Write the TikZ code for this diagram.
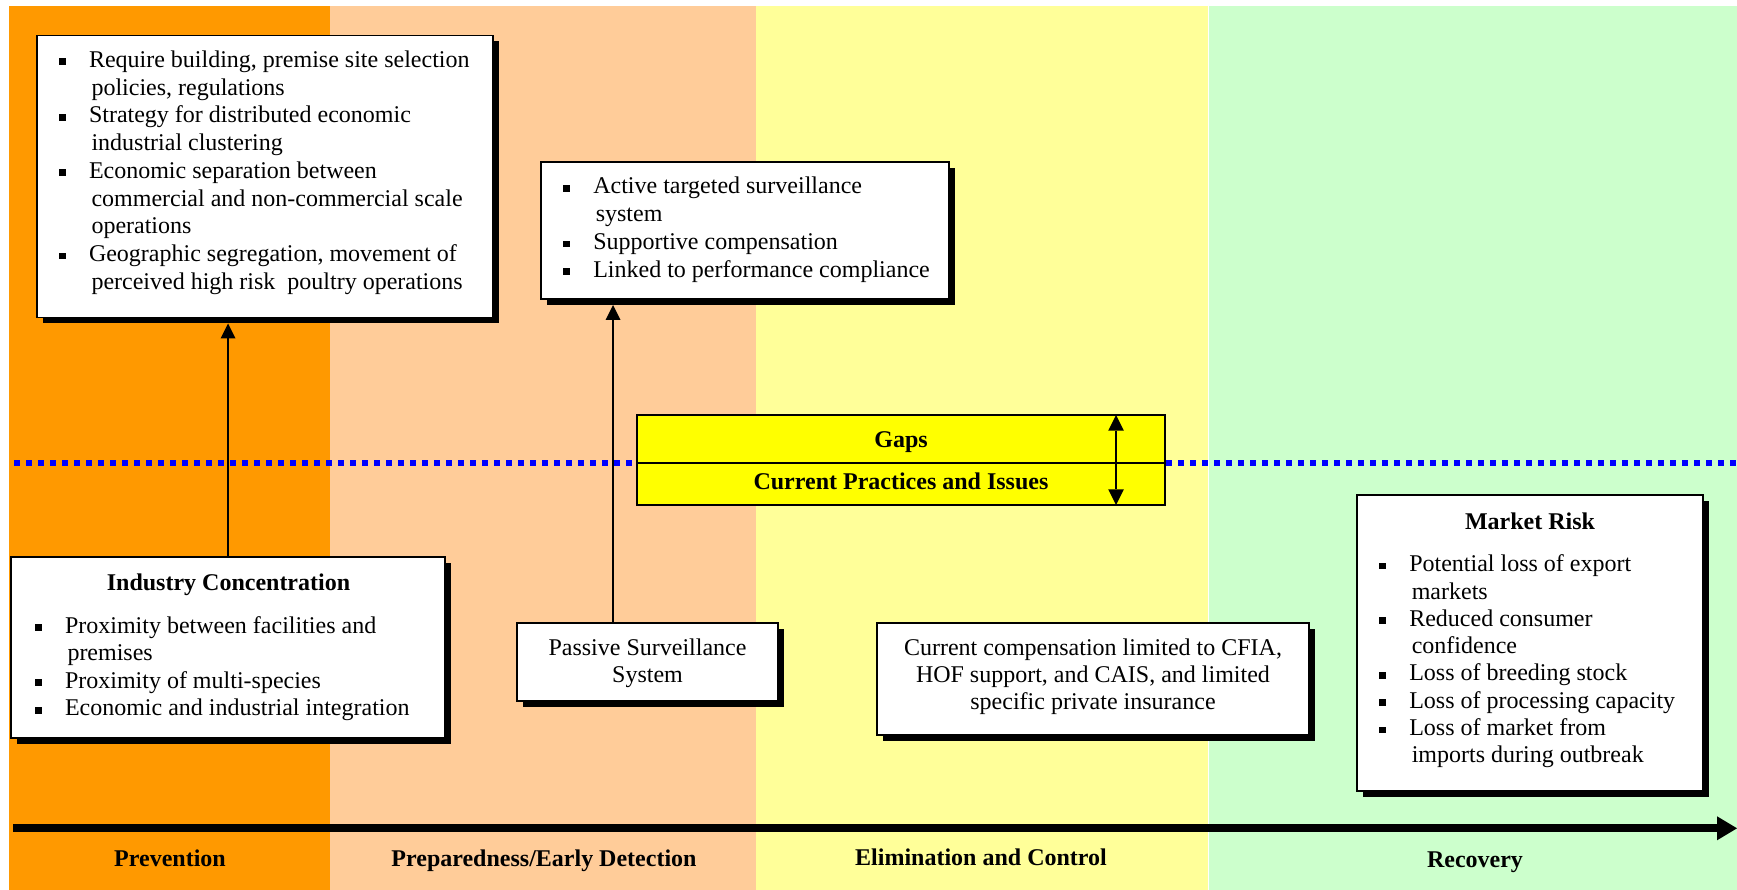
\documentclass[tikz,border=0pt]{standalone}
\usepackage{fontspec}
\setmainfont{Liberation Serif}
\usetikzlibrary{arrows.meta,calc,shadows}

\definecolor{prevC}{HTML}{FF9900}
\definecolor{prepC}{HTML}{FFCC99}
\definecolor{elimC}{HTML}{FFFF99}
\definecolor{recC}{HTML}{CCFFCC}
\definecolor{gapC}{HTML}{FFFF00}
\definecolor{divC}{HTML}{0000FF}

% bullet list helpers: one \hbox per printed line
\newcommand\bulsq{\rule[2.3pt]{6.7pt}{6.7pt}}
\newcommand\itemline[1]{\hbox{\makebox[30pt][l]{\bulsq}#1}}
\newcommand\contline[1]{\hbox{\kern32.5pt #1}}
\newcommand\centerlines[1]{\vtop{\halign{\hfil##\hfil\cr#1}}}

\tikzset{
  box/.style={draw=black, line width=1.8pt, fill=white, inner sep=0pt, outer sep=0pt,
    anchor=north west,
    drop shadow={shadow xshift=6pt, shadow yshift=-6pt, opacity=1, fill=black}},
  gapbox/.style={draw=black, line width=1.7pt, fill=gapC, inner sep=0pt, outer sep=0pt,
    anchor=north west},
  txt/.style={inner sep=0pt, outer sep=0pt, font=\fontsize{24pt}{#1}\selectfont},
  txt/.default=27.6pt,
  title/.style={inner sep=0pt, outer sep=0pt, anchor=base,
    font=\fontsize{24pt}{27.6pt}\selectfont\bfseries},
  conn/.style={line width=1.6pt, -{Triangle[length=15pt,width=15pt,line width=0pt]}},
  both/.style={line width=1.3pt,
    {Triangle[length=15.7pt,width=15.7pt,line width=0pt]}-{Triangle[length=15.7pt,width=15.7pt,line width=0pt]}},
  timeline/.style={line width=8pt, -{Triangle[length=20pt,width=24pt,line width=0pt]}},
  divider/.style={draw=divC, line width=6pt, dash pattern=on 6pt off 6pt, dash phase=9pt},
}

\begin{document}
\begin{tikzpicture}[x=1pt,y=-1pt]
\useasboundingbox (0,0) rectangle (1737,890);

% phase bands
\fill[prevC] (9,6.5) rectangle (330,890);
\fill[prepC] (330,6.5) rectangle (755.5,890);
\fill[elimC] (755.5,6.5) rectangle (1208.3,890);
\fill[recC] (1209.3,6.5) rectangle (1737,890);

% dotted divider between gaps and current practices
\coordinate (div-l) at (11,462.7);
\coordinate (div-r) at (1737,462.7);
\draw[divider] (div-l) -- (div-r);

% time axis
\coordinate (tl-l) at (13.4,828.3);
\coordinate (tl-r) at (1737,828.3);
\draw[timeline] (tl-l) -- (tl-r);

% phase labels
\node[title] (lbl-prev) at (170,866.5) {Prevention};
\node[title] (lbl-prep) at (544,866.5) {Preparedness/Early Detection};
\node[title] (lbl-elim) at (981,865) {Elimination and Control};
\node[title] (lbl-rec) at (1475,867) {Recovery};

% gaps / current practices legend
\node[gapbox, minimum width=528pt, minimum height=47.7pt] (gap) at (637,415) {};
\node[gapbox, minimum width=528pt, minimum height=42.3pt] (cur) at (637,462.7) {};
\node[title] (gap-t) at (901,447) {Gaps};
\node[title] (cur-t) at (901,489.5) {Current Practices and Issues};
\draw[both] ($(gap.north east)+(-49,0)$) -- ($(cur.south east)+(-49,0)$);

% gap boxes (upper half)
\node[box, minimum width=456pt, minimum height=282pt] (b1) at (36.7,35.5) {};
\node[txt=27.75pt, anchor=base west] (b1-t) at (59,67.5) {\vtop{%
  \itemline{Require building, premise site selection}
  \contline{policies, regulations}
  \itemline{Strategy for distributed economic}
  \contline{industrial clustering}
  \itemline{Economic separation between}
  \contline{commercial and non-commercial scale}
  \contline{operations}
  \itemline{Geographic segregation, movement of}
  \contline{perceived high risk~ poultry operations}}};

\node[box, minimum width=408.3pt, minimum height=137.3pt] (b2) at (540.7,161.7) {};
\node[txt=27.8pt, anchor=base west] (b2-t) at (563.3,194) {\vtop{%
  \itemline{Active targeted surveillance}
  \contline{system}
  \itemline{Supportive compensation}
  \itemline{Linked to performance compliance}}};

% current practice boxes (lower half)
\node[box, minimum width=433.8pt, minimum height=181.3pt] (ind) at (11.2,556.7) {};
\node[title] (ind-h) at (228.5,590) {Industry Concentration};
\node[txt=27.5pt, anchor=base west] (ind-t) at (35,633.3) {\vtop{%
  \itemline{Proximity between facilities and}
  \contline{premises}
  \itemline{Proximity of multi-species}
  \itemline{Economic and industrial integration}}};

\node[box, minimum width=261pt, minimum height=78.3pt] (pas) at (517,622.7) {};
\node[txt=27.7pt, anchor=base] (pas-t) at (647.5,655) {\centerlines{%
  Passive Surveillance\cr System\cr}};

\node[box, minimum width=432.2pt, minimum height=112.3pt] (comp) at (876.8,622.7) {};
\node[txt=27.3pt, anchor=base] (comp-t) at (1093,655) {\centerlines{%
  Current compensation limited to CFIA,\cr
  HOF support, and CAIS, and limited\cr
  specific private insurance\cr}};

\node[box, minimum width=346.3pt, minimum height=296pt] (mkt) at (1356.7,495) {};
\node[title] (mkt-h) at (1530,529.3) {Market Risk};
\node[txt=27.3pt, anchor=base west] (mkt-t) at (1379.3,571.7) {\vtop{%
  \itemline{Potential loss of export}
  \contline{markets}
  \itemline{Reduced consumer}
  \contline{confidence}
  \itemline{Loss of breeding stock}
  \itemline{Loss of processing capacity}
  \itemline{Loss of market from}
  \contline{imports during outbreak}}};

% links from current practice to gap
\draw[conn] (ind.north) -- ($(ind.north |- b1.south)+(0,6)$);
\draw[conn] ($(pas.north)+(-34.5,0)$) -- ($(pas.north |- b2.south)+(-34.5,6)$);
\end{tikzpicture}
\end{document}
